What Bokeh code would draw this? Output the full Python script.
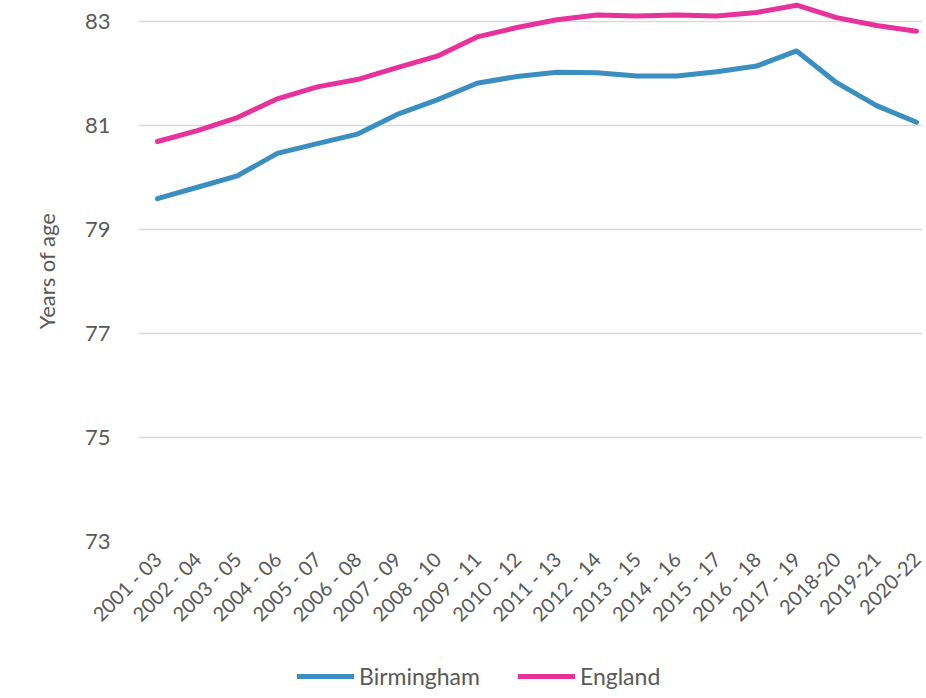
import math
from bokeh.plotting import figure
from bokeh.layouts import column
from bokeh.models import Range1d, Legend, LegendItem, FixedTicker, ColumnDataSource
from bokeh.embed import file_html
from bokeh.resources import INLINE

periods = ["2001 - 03", "2002 - 04", "2003 - 05", "2004 - 06", "2005 - 07",
           "2006 - 08", "2007 - 09", "2008 - 10", "2009 - 11", "2010 - 12",
           "2011 - 13", "2012 - 14", "2013 - 15", "2014 - 16", "2015 - 17",
           "2016 - 18", "2017 - 19", "2018-20", "2019-21", "2020-22"]
birmingham = [79.59, 79.81, 80.03, 80.46, 80.65, 80.83, 81.21, 81.49, 81.81, 81.94,
              82.02, 82.01, 81.95, 81.95, 82.03, 82.14, 82.43, 81.82, 81.38, 81.06]
england = [80.69, 80.90, 81.15, 81.51, 81.74, 81.88, 82.11, 82.33, 82.70, 82.88,
           83.03, 83.12, 83.10, 83.12, 83.10, 83.17, 83.31, 83.07, 82.92, 82.81]
y_ticks = [73, 75, 77, 79, 81, 83]
series_names = ["Birmingham", "England"]
series_cols = ["birmingham", "england"]
series_colors = ["#3a8fc0", "#e8329b"]

idx = list(range(len(periods)))
src = ColumnDataSource(dict(x=idx, birmingham=birmingham, england=england))

FONT = "Lato"
GREY = "#595959"

p = figure(width=926, height=640, output_backend="svg", toolbar_location=None,
           x_range=Range1d(-0.475, 19.15), y_range=Range1d(73, 83.4),
           min_border_left=138, min_border_right=4, min_border_top=0, min_border_bottom=99)
p.outline_line_color = None
p.background_fill_color = "white"
p.border_fill_color = "white"

for c, col in zip(series_cols, series_colors):
    p.line("x", c, source=src, line_color=col, line_width=5, line_join="round", line_cap="round")

p.xgrid.grid_line_color = None
p.ygrid.grid_line_color = "#d9d9d9"
p.ygrid.grid_line_width = 1.5

p.yaxis.ticker = FixedTicker(ticks=y_ticks)
p.yaxis.axis_line_color = None
p.yaxis.major_tick_line_color = None
p.yaxis.minor_tick_line_color = None
p.yaxis.major_label_text_font = FONT
p.yaxis.major_label_text_font_size = "22px"
p.yaxis.major_label_text_color = GREY
p.yaxis.major_label_standoff = 22
p.yaxis.axis_label = "Years of age"
p.yaxis.axis_label_text_font = FONT
p.yaxis.axis_label_text_font_size = "22px"
p.yaxis.axis_label_text_font_style = "normal"
p.yaxis.axis_label_text_color = GREY
p.yaxis.axis_label_standoff = 22

p.xaxis.ticker = FixedTicker(ticks=idx)
p.xaxis.major_label_overrides = {i: s for i, s in enumerate(periods)}
p.xaxis.major_label_orientation = math.pi / 4
p.xaxis.axis_line_color = None
p.xaxis.major_tick_line_color = None
p.xaxis.minor_tick_line_color = None
p.xaxis.major_label_text_font = FONT
p.xaxis.major_label_text_font_size = "20px"
p.xaxis.major_label_text_color = GREY
p.xaxis.major_label_standoff = 8

# legend strip (series drawn out of view so only the legend shows)
leg = figure(width=926, height=58, output_backend="svg", toolbar_location=None,
             x_range=p.x_range, y_range=Range1d(0, 1),
             x_axis_type=None, y_axis_type=None,
             min_border_left=0, min_border_right=0, min_border_top=0, min_border_bottom=0)
leg.outline_line_color = None
leg.border_fill_color = "white"
leg.background_fill_color = "white"
items = []
for name, c, col in zip(series_names, series_cols, series_colors):
    r = leg.line("x", c, source=src, line_color=col, line_width=5, line_cap="round")
    items.append(LegendItem(label=name, renderers=[r]))
legend = Legend(items=items, orientation="horizontal", location=(159, 8),
                label_text_font=FONT, label_text_font_size="23px",
                label_text_color=GREY, glyph_width=57, glyph_height=20,
                spacing=38, label_standoff=5, border_line_color=None,
                background_fill_alpha=0, margin=0, padding=6)
leg.add_layout(legend, "center")

layout = column(p, leg, spacing=0)
open("out.html", "w").write(file_html(layout, INLINE))
